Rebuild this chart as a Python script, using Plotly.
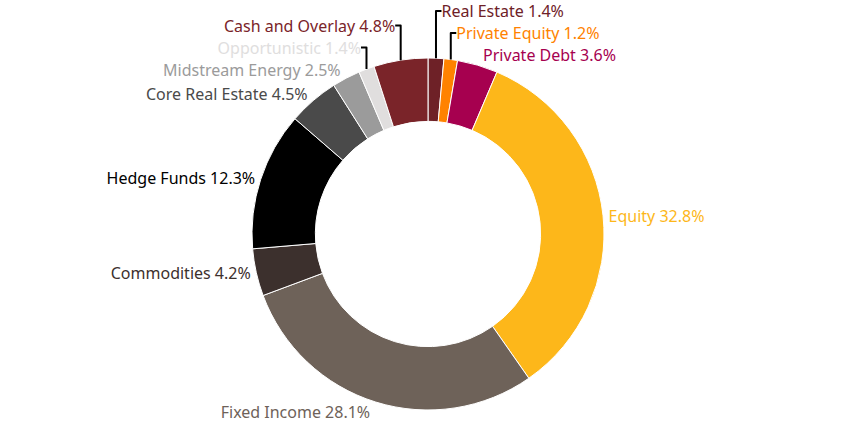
import plotly.graph_objects as go

labels = ["Real Estate", "Private Equity", "Private Debt", "Equity", "Fixed Income",
          "Commodities", "Hedge Funds", "Core Real Estate", "Midstream Energy",
          "Opportunistic", "Cash and Overlay"]
values = [1.4, 1.2, 3.6, 32.8, 28.1, 4.2, 12.3, 4.5, 2.5, 1.4, 4.8]
colors = ["#6E2127", "#FF8200", "#A6004F", "#FDB71A", "#6E6259",
          "#3C302D", "#000000", "#4A4A4A", "#9B9B9B", "#E0DEDE", "#7A2429"]

text = [f"{l} {v}%" for l, v in zip(labels, values)]

fig = go.Figure(go.Pie(
    labels=labels, values=values, text=text,
    textinfo="text", textposition="outside",
    sort=False, direction="clockwise", rotation=0,
    hole=0.64,
    marker=dict(colors=colors, line=dict(color="white", width=1)),
    outsidetextfont=dict(color=colors, size=16, family="Noto Sans"),
    domain=dict(x=[0.1, 0.913], y=[0, 1]),
    automargin=False,
    showlegend=False,
))
fig.update_layout(
    width=845, height=445,
    margin=dict(l=0, r=0, t=58, b=35),
    paper_bgcolor="white", plot_bgcolor="white",
)
fig.write_html("out.html")
